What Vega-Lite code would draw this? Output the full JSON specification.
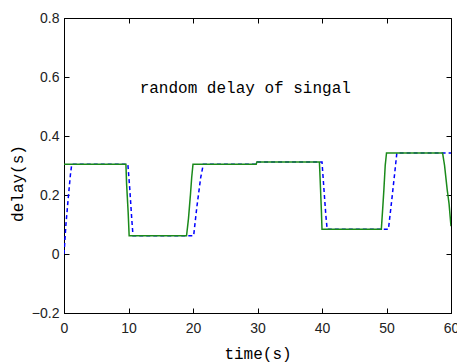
{
  "$schema": "https://vega.github.io/schema/vega-lite/v6.json",
  "width": 387,
  "height": 295,
  "autosize": {"type": "none"},
  "padding": {"left": 64, "top": 18, "right": 6, "bottom": 51},
  "background": "white",
  "config": {
    "view": {"stroke": "black", "strokeWidth": 1},
    "axis": {
      "grid": false,
      "domainColor": "black",
      "tickColor": "black",
      "tickSize": -5,
      "labelFont": "Liberation Sans",
      "labelFontSize": 14,
      "labelColor": "#222",
      "titleFont": "Liberation Mono",
      "titleFontSize": 16,
      "titleFontWeight": "normal",
      "titleColor": "black"
    }
  },
  "datasets": {
    "lines": [
      {"t": 0, "v": 0, "s": "est"},
      {"t": 0.3, "v": 0.1, "s": "est"},
      {"t": 0.7, "v": 0.2, "s": "est"},
      {"t": 1.0, "v": 0.27, "s": "est"},
      {"t": 1.2, "v": 0.304, "s": "est"},
      {"t": 9.9, "v": 0.304, "s": "est"},
      {"t": 10.2, "v": 0.22, "s": "est"},
      {"t": 10.5, "v": 0.12, "s": "est"},
      {"t": 10.7, "v": 0.062, "s": "est"},
      {"t": 20.1, "v": 0.062, "s": "est"},
      {"t": 20.6, "v": 0.16, "s": "est"},
      {"t": 21.2, "v": 0.26, "s": "est"},
      {"t": 21.6, "v": 0.304, "s": "est"},
      {"t": 29.9, "v": 0.304, "s": "est"},
      {"t": 30.0, "v": 0.312, "s": "est"},
      {"t": 40.0, "v": 0.312, "s": "est"},
      {"t": 40.3, "v": 0.22, "s": "est"},
      {"t": 40.6, "v": 0.13, "s": "est"},
      {"t": 40.8, "v": 0.084, "s": "est"},
      {"t": 50.3, "v": 0.084, "s": "est"},
      {"t": 50.8, "v": 0.18, "s": "est"},
      {"t": 51.3, "v": 0.28, "s": "est"},
      {"t": 51.6, "v": 0.342, "s": "est"},
      {"t": 60, "v": 0.342, "s": "est"},
      {"t": 0, "v": 0.304, "s": "actual"},
      {"t": 9.6, "v": 0.304, "s": "actual"},
      {"t": 9.7, "v": 0.24, "s": "actual"},
      {"t": 9.95, "v": 0.14, "s": "actual"},
      {"t": 10.1, "v": 0.062, "s": "actual"},
      {"t": 19.0, "v": 0.062, "s": "actual"},
      {"t": 19.3, "v": 0.12, "s": "actual"},
      {"t": 19.6, "v": 0.2, "s": "actual"},
      {"t": 19.8, "v": 0.26, "s": "actual"},
      {"t": 20.0, "v": 0.304, "s": "actual"},
      {"t": 29.8, "v": 0.304, "s": "actual"},
      {"t": 29.9, "v": 0.312, "s": "actual"},
      {"t": 39.6, "v": 0.312, "s": "actual"},
      {"t": 39.7, "v": 0.26, "s": "actual"},
      {"t": 39.9, "v": 0.15, "s": "actual"},
      {"t": 40.0, "v": 0.084, "s": "actual"},
      {"t": 49.2, "v": 0.084, "s": "actual"},
      {"t": 49.4, "v": 0.15, "s": "actual"},
      {"t": 49.6, "v": 0.22, "s": "actual"},
      {"t": 49.8, "v": 0.3, "s": "actual"},
      {"t": 50.0, "v": 0.342, "s": "actual"},
      {"t": 58.7, "v": 0.342, "s": "actual"},
      {"t": 59.0, "v": 0.3, "s": "actual"},
      {"t": 59.4, "v": 0.22, "s": "actual"},
      {"t": 59.7, "v": 0.17, "s": "actual"},
      {"t": 60, "v": 0.094, "s": "actual"}
    ],
    "note": [
      {"t": 28.1, "v": 0.563, "label": "random delay of singal"}
    ]
  },
  "layer": [
    {
      "data": {"name": "lines"},
      "mark": {"type": "line", "strokeWidth": 1.5, "clip": true},
      "encoding": {
        "x": {
          "field": "t", "type": "quantitative",
          "scale": {"domain": [0, 60], "nice": false, "zero": false},
          "axis": {"orient": "bottom", "values": [0, 10, 20, 30, 40, 50, 60], "title": "time(s)", "labelPadding": 13, "titlePadding": 10, "labelFlush": false}
        },
        "y": {
          "field": "v", "type": "quantitative",
          "scale": {"domain": [-0.2, 0.8], "nice": false, "zero": false},
          "axis": {"orient": "left", "values": [-0.2, 0, 0.2, 0.4, 0.6, 0.8], "title": "delay(s)", "labelPadding": 10, "titlePadding": 6, "titleY": 165, "labelFlush": false, "format": "~g"}
        },
        "color": {
          "field": "s", "type": "nominal",
          "scale": {"domain": ["est", "actual"], "range": ["#0000ff", "#1a8a1a"]},
          "legend": null
        },
        "strokeDash": {
          "field": "s", "type": "nominal",
          "scale": {"domain": ["est", "actual"], "range": [[4, 3], [1, 0]]},
          "legend": null
        }
      }
    },
    {
      "data": {"name": "note"},
      "mark": {"type": "text", "font": "Liberation Mono", "fontSize": 16, "color": "black", "align": "center", "baseline": "middle"},
      "encoding": {
        "x": {"field": "t", "type": "quantitative", "axis": {"orient": "top", "values": [0, 10, 20, 30, 40, 50, 60], "labels": false, "title": null, "domain": false}},
        "y": {"field": "v", "type": "quantitative", "axis": {"orient": "right", "values": [-0.2, 0, 0.2, 0.4, 0.6, 0.8], "labels": false, "title": null, "domain": false}},
        "text": {"field": "label"}
      }
    }
  ],
  "resolve": {"axis": {"x": "independent", "y": "independent"}}
}
